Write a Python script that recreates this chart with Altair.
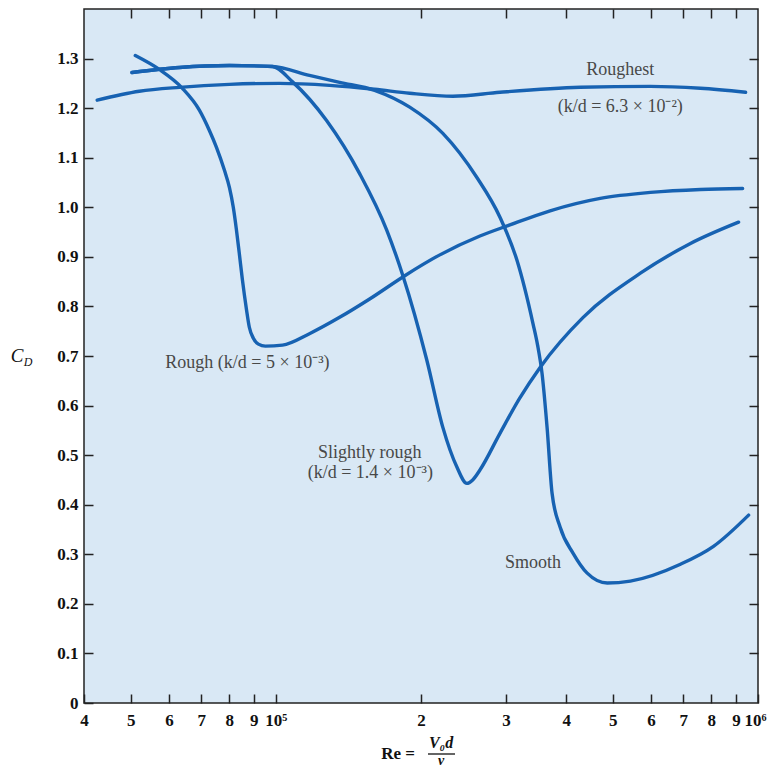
import altair as alt
import pandas as pd

# ---------------- data ----------------
re_roughest = [42600, 52100, 63100, 80100, 101700, 129200, 160300, 189500,
               232900, 291600, 427700, 598100, 759800, 942600]
cd_roughest = [1.216, 1.234, 1.242, 1.248, 1.250, 1.246, 1.238, 1.230,
               1.224, 1.232, 1.242, 1.244, 1.240, 1.232]

re_rough = [51100, 57300, 64000, 69400, 72800, 75300, 78200, 80100, 81600,
            82800, 84000, 85200, 86900, 88100, 89800, 92000, 95100,
            103200, 117400, 135600, 156500, 185100, 218800, 265000, 303000,
            370500, 470800, 598100, 759800, 929200]
cd_rough = [1.306, 1.278, 1.240, 1.196, 1.155, 1.121, 1.075, 1.040, 1.000,
            0.956, 0.906, 0.855, 0.794, 0.758, 0.736, 0.724, 0.720,
            0.722, 0.745, 0.778, 0.815, 0.862, 0.904, 0.942, 0.963,
            0.993, 1.018, 1.030, 1.036, 1.038]

re_slight = [50300, 63100, 80100, 98400, 108300, 127400, 149200, 169800,
             183300, 205600, 222000, 237400, 249000, 256000, 265000, 291600,
             320000, 353200, 433900, 570200, 724300, 911600]
cd_slight = [1.272, 1.282, 1.286, 1.284, 1.253, 1.175, 1.068, 0.954,
             0.863, 0.692, 0.556, 0.476, 0.443, 0.450, 0.470, 0.544,
             0.614, 0.677, 0.778, 0.867, 0.927, 0.970]

re_smooth = [50300, 63100, 80100, 98400, 117400, 135600, 160300, 189500,
             222000, 261200, 291600, 316300, 341500, 349000, 356500, 365200,
             374000, 388600, 413600, 442300, 486800, 543600, 690500, 808500,
             956200]
cd_smooth = [1.272, 1.282, 1.286, 1.284, 1.266, 1.252, 1.236, 1.202,
             1.149, 1.060, 0.980, 0.893, 0.765, 0.722, 0.665, 0.556,
             0.423, 0.355, 0.302, 0.262, 0.242, 0.246, 0.280, 0.316,
             0.379]

series_names = ["Roughest", "Rough", "Slightly rough", "Smooth"]

label_texts = ["Roughest", "(k/d = 6.3 × 10⁻²)", "Rough (k/d = 5 × 10⁻³)",
               "Slightly rough", "(k/d = 1.4 × 10⁻³)", "Smooth"]
label_re = [518000, 518000, 87300, 156500, 157000, 341500]
label_cd = [1.276, 1.202, 0.685, 0.504, 0.464, 0.282]

x_tick_values = [40000, 50000, 60000, 70000, 80000, 90000, 100000,
                 200000, 300000, 400000, 500000, 600000, 700000, 800000,
                 900000, 1000000]
x_tick_labels = ["4", "5", "6", "7", "8", "9", "10⁵",
                 "2", "3", "4", "5", "6", "7", "8", "9", "10⁶"]
y_tick_values = [0, 0.1, 0.2, 0.3, 0.4, 0.5, 0.6, 0.7, 0.8, 0.9, 1.0,
                 1.1, 1.2, 1.3]
y_tick_labels = ["0", "0.1", "0.2", "0.3", "0.4", "0.5", "0.6", "0.7",
                 "0.8", "0.9", "1.0", "1.1", "1.2", "1.3"]

# ---------------- build tables ----------------
rows = []
for name, xs, ys in zip(series_names,
                        [re_roughest, re_rough, re_slight, re_smooth],
                        [cd_roughest, cd_rough, cd_slight, cd_smooth]):
    for xv, yv in zip(xs, ys):
        rows.append({"series": name, "Re": xv, "CD": yv})
curves = pd.DataFrame(rows)
labels = pd.DataFrame({"text": label_texts, "Re": label_re, "CD": label_cd})

def lookup_expr(values, texts):
    expr = "''"
    for v, t in reversed(list(zip(values, texts))):
        expr = f"abs(datum.value - {v!r}) < 1e-6 * {max(abs(v), 1)} ? '{t}' : " + expr
    return expr

x_label_expr = lookup_expr(x_tick_values, x_tick_labels)
y_label_expr = lookup_expr(y_tick_values, y_tick_labels)

FONT = "Liberation Serif"
LINE = "#1762b2"
TEXT = "#484848"
BG = "#d9e8f5"

xscale = alt.Scale(type="log", domain=[40000, 1000000], nice=False)
yscale = alt.Scale(domain=[0, 1.4], nice=False, zero=False)

last_x = f"datum.value > {x_tick_values[-2]}"
bottom_axis = alt.Axis(orient="bottom", values=x_tick_values, labelExpr=x_label_expr,
                       tickSize=9, offset=-9, domain=False, grid=False,
                       labelPadding=9, labelFont=FONT, labelFontSize=17,
                       labelFontWeight="bold", labelColor="#111", tickColor="#222",
                       tickWidth=1.5, title=None, labelFlush=False, labelOverlap=False,
                       labelBound=False,
                       labelAlign={"condition": {"test": last_x, "value": "right"},
                                   "value": "center"},
                       labelOffset={"condition": {"test": last_x, "value": 8},
                                    "value": 0})
left_axis = alt.Axis(orient="left", values=y_tick_values, labelExpr=y_label_expr,
                     tickSize=9, offset=-9, domain=False, grid=False,
                     labelPadding=6, labelFont=FONT, labelFontSize=17,
                     labelFontWeight="bold", labelColor="#111", tickColor="#222",
                     tickWidth=1.5, title=None, labelFlush=False, labelOverlap=False)
top_axis = alt.Axis(orient="top", values=x_tick_values[1:-1], labels=False,
                    tickSize=9, offset=-9, domain=False, grid=False,
                    tickColor="#222", tickWidth=1.5, title=None)
right_axis = alt.Axis(orient="right", values=y_tick_values[1:], labels=False,
                      tickSize=9, offset=-9, domain=False, grid=False,
                      tickColor="#222", tickWidth=1.5, title=None)

lines = alt.Chart(curves).mark_line(interpolate="monotone", strokeWidth=3.4,
                                    color=LINE, strokeCap="round",
                                    strokeJoin="round").encode(
    x=alt.X("Re:Q", scale=xscale, axis=bottom_axis),
    y=alt.Y("CD:Q", scale=yscale, axis=left_axis),
    detail="series:N",
)

frame_axes = alt.Chart(curves).mark_point(opacity=0).encode(
    x=alt.X("Re:Q", scale=xscale, axis=top_axis),
    y=alt.Y("CD:Q", scale=yscale, axis=right_axis),
)

notes = alt.Chart(labels).mark_text(font=FONT, fontSize=18, color=TEXT,
                                    align="center", baseline="middle").encode(
    x=alt.X("Re:Q", scale=xscale, axis=None),
    y=alt.Y("CD:Q", scale=yscale, axis=None),
    text="text:N",
)

def txt(s, x, y, size, style="normal", weight="normal", color="#111", baseline="middle"):
    return alt.Chart(pd.DataFrame({"t": [s]})).mark_text(
        font=FONT, fontSize=size, fontStyle=style, fontWeight=weight, color=color,
        align="center", baseline=baseline).encode(
        x=alt.value(x), y=alt.value(y), text="t:N")

title_c = txt("C", -67, 347, 19, style="italic")
title_d = txt("D", -56, 353, 12, style="italic")
title_re = txt("Re =", 314, 745, 17, weight="bold")
title_num = txt("V₀d", 357, 734, 16, style="italic", weight="bold")
title_bar = alt.Chart(pd.DataFrame({"a": [0]})).mark_rule(color="#111", strokeWidth=1.3).encode(
    x=alt.value(344), x2=alt.value(371), y=alt.value(745))
title_den = txt("ν", 357, 752, 14, style="italic", weight="bold")

chart = alt.layer(lines, frame_axes, notes, title_c, title_d, title_re, title_num,
                  title_bar, title_den).resolve_axis(
    x="independent", y="independent"
).properties(
    width=674, height=694,
    padding={"left": 76, "top": 1, "right": 9, "bottom": 69},
    autosize=alt.AutoSizeParams(type="none"),
    background="white",
).configure_view(
    stroke="#222", strokeWidth=1.5, fill=BG
)

chart.save("out.html", embed_options={"renderer": "svg", "actions": False})
